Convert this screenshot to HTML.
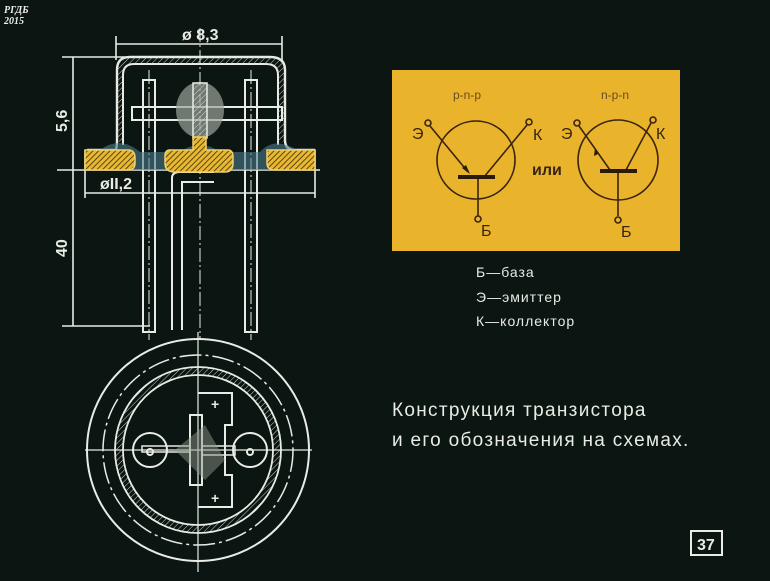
<!DOCTYPE html>
<html><head><meta charset="utf-8"><style>
html,body{margin:0;padding:0;background:#0b1511;}
svg{display:block}
</style></head><body>
<svg width="770" height="581" viewBox="0 0 770 581" xmlns="http://www.w3.org/2000/svg" font-family="Liberation Sans, sans-serif">
<defs>
<pattern id="h" width="4" height="4" patternUnits="userSpaceOnUse" patternTransform="rotate(45)"><rect width="4" height="4" fill="#e8b830"/><line x1="0" y1="0" x2="0" y2="4" stroke="#3a2a10" stroke-width="1.6"/></pattern>
<pattern id="w" width="4" height="4" patternUnits="userSpaceOnUse" patternTransform="rotate(45)"><line x1="0" y1="0" x2="0" y2="4" stroke="#cfd6cc" stroke-width="1"/></pattern>
</defs>
<rect width="770" height="581" fill="#0b1511"/>
<text x="4" y="13" font-family="Liberation Serif, serif" font-style="italic" font-weight="bold" font-size="10" fill="#eee">РГДБ</text>
<text x="4" y="24" font-family="Liberation Serif, serif" font-style="italic" font-weight="bold" font-size="10" fill="#eee">2015</text>

<g stroke="#e8ece4" fill="none" stroke-width="1.6">
 <line x1="116" y1="44" x2="282" y2="44"/>
 <line x1="116" y1="36" x2="116" y2="60"/><line x1="282" y1="36" x2="282" y2="60"/>
 <line x1="62" y1="57" x2="125" y2="57"/>
 <line x1="57" y1="170" x2="320" y2="170"/>
 <line x1="62" y1="326" x2="150" y2="326"/>
 <line x1="73" y1="57" x2="73" y2="326"/>
 <line x1="85" y1="193" x2="315" y2="193"/>
 <line x1="85" y1="150" x2="85" y2="198"/><line x1="315" y1="150" x2="315" y2="198"/>
 <path d="M87 150 H115 Q117 150 117 140 V70 Q117 57 130 57 H270 Q285 57 285 70 V140 Q285 150 295 150 H315" stroke-width="2.4"/>
 <path d="M123 145 V75 Q123 64 134 64 H266 Q278 64 278 75 V145" stroke-width="2"/>
 <path d="M117 70 Q117 57 130 57 H270 Q285 57 285 70 V140 L278 145 V75 Q278 64 266 64 H134 Q123 64 123 75 V145 L117 140Z" fill="url(#w)" stroke="none"/>
 <rect x="143" y="80" width="12" height="252" stroke-width="2"/>
 <rect x="245" y="80" width="12" height="252" stroke-width="2"/>
 <path d="M172 330 V178 Q172 172 180 172 H214 M182 330 V182 H214" stroke-width="2"/>
 <rect x="132" y="107" width="150" height="13" stroke-width="2"/>
 <line x1="200" y1="28" x2="200" y2="340" stroke-dasharray="14 3 2 3" stroke-width="1"/>
 <line x1="149" y1="70" x2="149" y2="340" stroke-dasharray="14 3 2 3" stroke-width="1"/>
 <line x1="251" y1="70" x2="251" y2="340" stroke-dasharray="14 3 2 3" stroke-width="1"/>
</g>
<ellipse cx="200" cy="110" rx="24" ry="28" fill="#9aa49a" opacity="0.7"/>
<rect x="193" y="83" width="14" height="55" fill="url(#w)" stroke="#e8ece4" stroke-width="1.5"/>
<path d="M100 150 Q120 135 140 152 L180 152 Q200 138 220 152 L260 152 Q275 135 300 152 L300 170 H100Z" fill="#4d7c8a" opacity="0.6"/>
<g stroke="#f0d070" stroke-width="1.5">
<path d="M85 150 H128 Q135 150 135 158 V163 Q135 170 128 170 H85Z" fill="url(#h)"/>
<path d="M267 150 H315 V170 H275 Q267 170 267 163Z" fill="url(#h)"/>
<path d="M170 150 H193 V137 H206 V150 H228 Q233 150 233 157 V163 Q233 172 225 172 H175 Q165 172 165 163 V156 Q165 150 170 150Z" fill="url(#h)"/>
</g>
<g fill="#e8ece4" font-size="16" font-weight="bold">
<text x="182" y="40">ø 8,3</text>
<text x="100" y="189">øII,2</text>
<text transform="translate(67,132) rotate(-90)">5,6</text>
<text transform="translate(67,257) rotate(-90)">40</text>
</g>

<g stroke="#e8ece4" fill="none" stroke-width="2">
 <circle cx="198" cy="450" r="111"/>
 <circle cx="198" cy="450" r="95" stroke-dasharray="22 4 3 4" stroke-width="1.5"/>
 <circle cx="198" cy="450" r="79" stroke="url(#w)" stroke-width="8"/>
 <circle cx="198" cy="450" r="83" stroke-width="1.8"/>
 <circle cx="198" cy="450" r="75" stroke-width="1.8"/>
 <line x1="85" y1="450" x2="312" y2="450" stroke-width="1.2"/>
 <line x1="198" y1="332" x2="198" y2="572" stroke-width="1.2"/>
 <circle cx="150" cy="450" r="17"/><circle cx="250" cy="450" r="17"/>
 <circle cx="150" cy="452" r="3"/><circle cx="250" cy="452" r="3"/>
 <path d="M198 393 H232 V425 H225 V475 H232 V507 H198"/>
 <rect x="190" y="415" width="12" height="70"/>
 <path d="M142 446 H190 V452 H142Z" stroke-width="1.5"/>
 <path d="M202 446 H235 V455 H202" stroke-width="1.5"/>
</g>
<path d="M175 450 L205 425 L225 460 L205 480Z" fill="#8a948a" opacity="0.5"/>
<g fill="#e8ece4" font-size="14" font-weight="bold"><text x="211" y="409">+</text><text x="211" y="503">+</text></g>

<rect x="392" y="70" width="288" height="181" fill="#e9b42c"/>
<g stroke="#3a2410" fill="none" stroke-width="1.6">
 <circle cx="476" cy="160" r="39"/>
 <circle cx="618" cy="160" r="40"/>
 <line x1="430" y1="126" x2="468" y2="172"/><line x1="527" y1="125" x2="484" y2="177"/>
 <line x1="478" y1="178" x2="478" y2="216"/>
 <line x1="579" y1="126" x2="610" y2="170"/><line x1="651" y1="123" x2="626" y2="170"/>
 <line x1="618" y1="172" x2="618" y2="216"/>
 <circle cx="428" cy="123" r="3"/><circle cx="529" cy="122" r="3"/><circle cx="478" cy="219" r="3"/>
 <circle cx="577" cy="123" r="3"/><circle cx="653" cy="120" r="3"/><circle cx="618" cy="220" r="3"/>
</g>
<rect x="458" y="175" width="37" height="4" fill="#2a1a08"/>
<rect x="600" y="169" width="37" height="4" fill="#2a1a08"/>
<path d="M470 174 L462 168 L466 165Z" fill="#2a1a08"/>
<path d="M595 148 L594 156 L598 154Z" fill="#2a1a08"/>
<g fill="#3a2410" font-size="16">
<text x="412" y="139">Э</text><text x="533" y="140">К</text><text x="481" y="236">Б</text>
<text x="561" y="139">Э</text><text x="656" y="139">К</text><text x="621" y="237">Б</text>
<text x="453" y="99" font-size="12" fill="#6a4a20">p-n-p</text>
<text x="601" y="99" font-size="12" fill="#6a4a20">n-p-n</text>
<text x="532" y="175" font-weight="bold" font-size="16">или</text>
</g>

<g fill="#e8ece4" font-size="14" letter-spacing="1">
<text x="476" y="277">Б—база</text>
<text x="476" y="302">Э—эмиттер</text>
<text x="476" y="326">К—коллектор</text>
</g>
<g fill="#e8ece4" font-size="19" letter-spacing="1.3">
<text x="392" y="416">Конструкция транзистора</text>
<text x="392" y="446">и его обозначения на схемах.</text>
</g>
<rect x="691" y="531" width="31" height="24" fill="none" stroke="#e8ece4" stroke-width="2"/>
<text x="697" y="550" fill="#e8ece4" font-size="16" font-weight="bold">37</text>
</svg>
</body></html>
